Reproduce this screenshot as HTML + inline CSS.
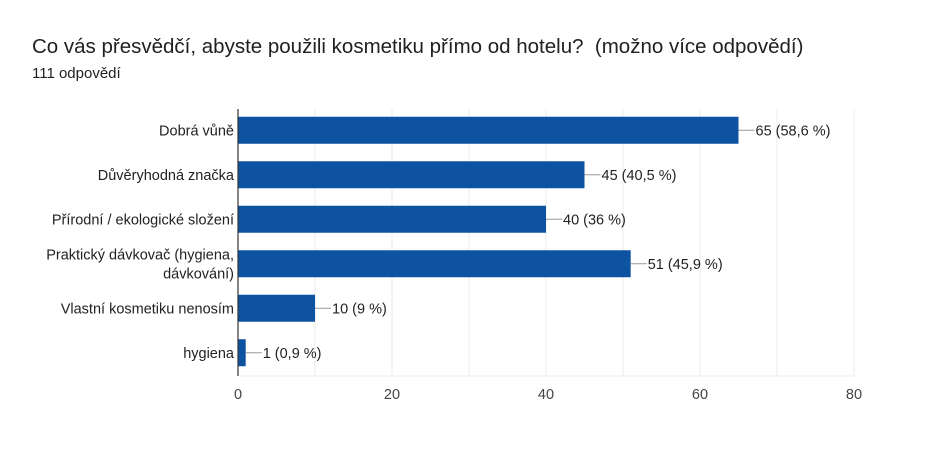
<!DOCTYPE html>
<html><head><meta charset="utf-8"><style>
body{margin:0;background:#fff;font-family:"Liberation Sans",sans-serif;}
</style></head><body>
<svg width="950" height="455" xmlns="http://www.w3.org/2000/svg" font-family="Liberation Sans, sans-serif">
<text x="32" y="53" font-size="20.5" fill="#202124" xml:space="preserve">Co vás přesvědčí, abyste použili kosmetiku přímo od hotelu?  (možno více odpovědí)</text>
<text x="32" y="78" font-size="15" fill="#202124">111 odpovědí</text>
<g id="plot"></g>
</svg>
<script>
const categories=[["Dobrá vůně"],["Důvěryhodná značka"],["Přírodní / ekologické složení"],["Praktický dávkovač (hygiena,","dávkování)"],["Vlastní kosmetiku nenosím"],["hygiena"]];
const values=[65,45,40,51,10,1];
const valueLabels=["65 (58,6 %)","45 (40,5 %)","40 (36 %)","51 (45,9 %)","10 (9 %)","1 (0,9 %)"];
const ticks=[0,20,40,60,80];
const grid=[10,20,30,40,50,60,70,80];
const NS="http://www.w3.org/2000/svg";
const g=document.getElementById('plot');
const x0=238,x1=854,yTop=109,yBot=376;
const xs=v=>x0+(x1-x0)*v/80;
const band=(yBot-yTop)/categories.length;
const yc=i=>yTop+band*(i+0.5)-1;
function mk(t,a,p){const e=document.createElementNS(NS,t);for(const k in a)e.setAttribute(k,a[k]);(p||g).appendChild(e);return e;}
grid.forEach(v=>{const l=mk('line',{x1:xs(v),x2:xs(v),y1:yTop,y2:yBot,stroke:'#ebebeb'});

});
const bl=mk('line',{x1:x0,x2:x1,y1:yBot,y2:yBot,stroke:'#ebebeb'});


ticks.forEach(v=>{const t=mk('text',{x:xs(v),y:399,'font-size':14.5,fill:'#444','text-anchor':'middle'});t.textContent=v;

});
values.forEach((v,i)=>{
const y=yc(i);
const r=mk('rect',{x:x0,y:y-13.5,width:xs(v)-x0,height:27,fill:'#0e53a2'});


const ln=mk('line',{x1:xs(v),x2:xs(v)+16,y1:y,y2:y,stroke:'#999'});


const vt=mk('text',{x:xs(v)+17,y:y+5,'font-size':14.5,fill:'#222'});vt.textContent=valueLabels[i];


const lines=categories[i];
lines.forEach((s,j)=>{const ct=mk('text',{x:234,y:y+5+(j-(lines.length-1)/2)*19,'font-size':14.5,fill:'#222','text-anchor':'end'});ct.textContent=s;

});
});
const ax=mk('line',{x1:x0,x2:x0,y1:yTop,y2:yBot,stroke:'#333','stroke-width':1.2});


</script>
</body></html>
